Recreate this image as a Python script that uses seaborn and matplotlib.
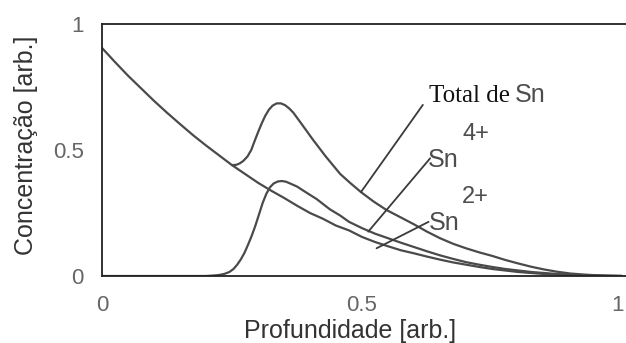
import matplotlib
matplotlib.use("Agg")
import matplotlib.pyplot as plt
import matplotlib.transforms as mtransforms
import seaborn as sns
import pandas as pd

# Depth profiles of tin species (arbitrary units)
sn2_x = [0.0, 0.025, 0.05, 0.075, 0.10, 0.125, 0.15, 0.175, 0.20, 0.225,
         0.25, 0.275, 0.30, 0.325, 0.35, 0.375, 0.40, 0.425, 0.45, 0.475,
         0.50, 0.525, 0.55, 0.575, 0.60, 0.625, 0.65, 0.675, 0.70, 0.725,
         0.75, 0.775, 0.80, 0.825, 0.85, 0.875, 0.90, 0.925, 0.95, 0.975, 1.0]
sn2_y = [0.905, 0.849, 0.795, 0.745, 0.695, 0.648, 0.603, 0.559, 0.518, 0.479,
         0.44, 0.405, 0.37, 0.339, 0.31, 0.279, 0.25, 0.227, 0.20, 0.181,
         0.155, 0.135, 0.118, 0.102, 0.09, 0.077, 0.065, 0.054, 0.045, 0.036,
         0.028, 0.022, 0.016, 0.012, 0.008, 0.005, 0.003, 0.0015, 0.001, 0.0003, 0.0]

sn4_x = [0.0, 0.10, 0.20, 0.215, 0.225, 0.235, 0.245, 0.253, 0.26, 0.267,
         0.274, 0.281, 0.288, 0.295, 0.302, 0.309, 0.316, 0.323, 0.33, 0.338,
         0.346, 0.354, 0.362, 0.375, 0.39, 0.413, 0.438, 0.458, 0.475, 0.50,
         0.525, 0.55, 0.575, 0.60, 0.625, 0.65, 0.675, 0.70, 0.725, 0.75,
         0.775, 0.80, 0.825, 0.85, 0.875, 0.90, 0.925, 0.95, 1.0]
sn4_y = [0.0, 0.0, 0.0, 0.002, 0.004, 0.008, 0.016, 0.028, 0.045, 0.066,
         0.092, 0.125, 0.16, 0.20, 0.245, 0.29, 0.326, 0.352, 0.367, 0.375,
         0.377, 0.374, 0.367, 0.355, 0.335, 0.305, 0.265, 0.24, 0.215, 0.19,
         0.168, 0.15, 0.132, 0.115, 0.098, 0.082, 0.068, 0.055, 0.045, 0.036,
         0.028, 0.022, 0.016, 0.012, 0.008, 0.005, 0.003, 0.0015, 0.0]

total_x = [0.25, 0.258, 0.265, 0.272, 0.28, 0.287, 0.293, 0.30, 0.307, 0.314,
           0.321, 0.328, 0.336, 0.344, 0.352, 0.36, 0.368, 0.385, 0.406, 0.43,
           0.458, 0.478, 0.498, 0.522, 0.547, 0.575, 0.60, 0.625, 0.65, 0.675,
           0.70, 0.725, 0.75, 0.775, 0.80, 0.825, 0.85, 0.875, 0.90, 0.925,
           0.95, 0.975, 1.0]
total_y = [0.44, 0.441, 0.447, 0.457, 0.475, 0.50, 0.533, 0.57, 0.605, 0.636,
           0.66, 0.676, 0.685, 0.685, 0.678, 0.665, 0.648, 0.60, 0.54, 0.475,
           0.405, 0.368, 0.333, 0.296, 0.262, 0.232, 0.205, 0.176, 0.15, 0.128,
           0.11, 0.094, 0.08, 0.064, 0.05, 0.037, 0.026, 0.017, 0.01, 0.006,
           0.003, 0.001, 0.0]

x_ticks = [0, 0.5, 1]
x_tick_labels = ["0", "0.5", "1"]
y_ticks = [0, 0.5, 1]
y_tick_labels = ["0", "0.5", "1"]

# Leader lines from the curve names to the curves
leader_total = ([0.617, 0.498], [0.679, 0.333])
leader_sn4 = ([0.631, 0.512], [0.467, 0.176])
leader_sn2 = ([0.628, 0.528], [0.215, 0.110])

sns.set_theme(style="white")
plt.rcParams["font.family"] = ["Liberation Sans", "DejaVu Sans"]

W, H = 626, 343
fig = plt.figure(figsize=(W / 100, H / 100), dpi=100)
ax = fig.add_axes([102 / W, (H - 276) / H, 528 / W, 252 / H])

line_color = "#4a4a4a"
frames = [
    pd.DataFrame({"x": sn2_x, "y": sn2_y}),
    pd.DataFrame({"x": sn4_x, "y": sn4_y}),
    pd.DataFrame({"x": total_x, "y": total_y}),
]
for df in frames:
    sns.lineplot(data=df, x="x", y="y", ax=ax, color=line_color,
                 linewidth=1.6, estimator=None, sort=False)

for lx, ly in (leader_total, leader_sn4, leader_sn2):
    ax.plot(lx, ly, color="#3a3a3a", linewidth=1.3)

ax.set_xlim(0, 528 / 520)
ax.set_ylim(0, 1)

ax.set_xticks(x_ticks)
ax.set_xticklabels(x_tick_labels)
ax.set_yticks(y_ticks)
ax.set_yticklabels(y_tick_labels)
ax.tick_params(axis="both", length=0, labelsize=16, labelcolor="#666666")
ax.tick_params(axis="x", pad=14)
ax.tick_params(axis="y", pad=13)

# keep the last x tick label inside the figure edge
last = ax.get_xticklabels()[-1]
last.set_transform(last.get_transform() +
                   mtransforms.ScaledTranslation(-4 / 100, 0, fig.dpi_scale_trans))

for side in ("left", "top", "bottom"):
    ax.spines[side].set_color("#222222")
    ax.spines[side].set_linewidth(1.3)
ax.spines["right"].set_visible(False)

ax.set_xlabel("Profundidade [arb.]", fontsize=18, color="#333333")
ax.set_ylabel("Concentração [arb.]", fontsize=18, color="#333333")
ax.xaxis.label.set_verticalalignment("baseline")
ax.xaxis.set_label_coords((350 - 102) / 528, (276 - 338) / 252)
ax.yaxis.label.set_verticalalignment("baseline")
ax.yaxis.set_label_coords((33 - 102) / 528, (276 - 145) / 252)

serif = ["Liberation Serif", "DejaVu Serif"]
sans = ["Liberation Sans", "DejaVu Sans"]
label_color = "#4d4d4d"
ax.text(0.629, 0.690, "Total de", family=serif, fontsize=18,
        color="#111111", va="baseline", ha="left")
ax.text(0.794, 0.690, "Sn", family=sans, fontsize=18,
        color=label_color, va="baseline", ha="left")
ax.text(0.694, 0.540, "4+", family=sans, fontsize=17,
        color=label_color, va="baseline", ha="left")
ax.text(0.627, 0.433, "Sn", family=sans, fontsize=18,
        color=label_color, va="baseline", ha="left")
ax.text(0.692, 0.290, "2+", family=sans, fontsize=17,
        color=label_color, va="baseline", ha="left")
ax.text(0.629, 0.183, "Sn", family=sans, fontsize=18,
        color=label_color, va="baseline", ha="left")

fig.savefig("out.png", dpi=100)
